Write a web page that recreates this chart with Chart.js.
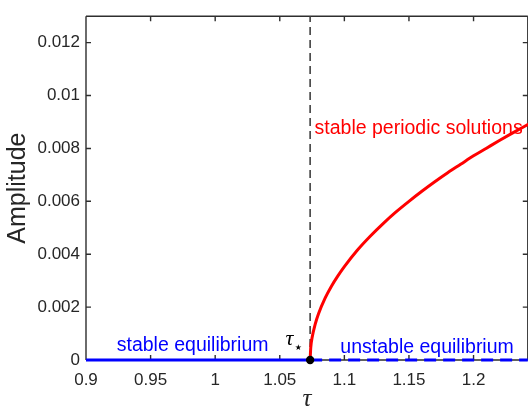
<!DOCTYPE html>
<html><head><meta charset="utf-8">
<script src="https://cdn.jsdelivr.net/npm/chart.js@4"></script>
<style>
html,body{margin:0;padding:0;overflow:hidden;background:#fff;width:528px;height:412px}
#wrap{width:532px;height:412px}
</style></head>
<body><div id="wrap"><canvas id="c" width="532" height="412"></canvas></div>
<script>
// ---- data ----
const tauStar = 1.0735;
const xMin = 0.9, xMax = 1.242, yMin = 0, yMax = 0.013;
const xTicks = [0.9, 0.95, 1, 1.05, 1.1, 1.15, 1.2];
const xTickLabels = ['0.9', '0.95', '1', '1.05', '1.1', '1.15', '1.2'];
const yTicks = [0, 0.002, 0.004, 0.006, 0.008, 0.01, 0.012];
const yTickLabels = ['0', '0.002', '0.004', '0.006', '0.008', '0.01', '0.012'];
const stableEqTau = [0.9, tauStar];
const stableEqAmp = [0, 0];
const unstableEqTau = [tauStar, xMax];
const unstableEqAmp = [0, 0];
const periodicTau = [1.0735, 1.074, 1.075, 1.0775, 1.08, 1.085, 1.09, 1.095, 1.10, 1.11, 1.12, 1.13, 1.14, 1.15, 1.16, 1.17, 1.18, 1.19, 1.20, 1.21, 1.22, 1.23, 1.24, 1.245];
const periodicAmp = [0, 0.00048, 0.00084, 0.00137, 0.00175, 0.00233, 0.00279, 0.00318, 0.00353, 0.00415, 0.00468, 0.00516, 0.0056, 0.006, 0.00638, 0.00674, 0.00708, 0.0074, 0.00772, 0.00801, 0.0083, 0.00858, 0.00885, 0.00898];
const criticalLineTau = [tauStar, tauStar];
const criticalLineAmp = [0, yMax];

const zip = (xs, ys) => xs.map((x, i) => ({x, y: ys[i]}));

const axisColor = '#2e2e2e';
const textColor = '#262626';

const boxPlugin = {
  id: 'box',
  beforeDatasetsDraw(chart) {
    const {ctx, chartArea: a, scales: {x, y}} = chart;
    ctx.save();
    ctx.strokeStyle = axisColor;
    ctx.lineWidth = 1.4;
    ctx.beginPath();
    ctx.moveTo(a.left, a.bottom); ctx.lineTo(a.right, a.bottom);
    ctx.moveTo(a.left, a.top); ctx.lineTo(a.right, a.top);
    ctx.moveTo(a.left, a.top); ctx.lineTo(a.left, a.bottom);
    ctx.moveTo(a.right, a.top); ctx.lineTo(a.right, a.bottom);
    const tl = 5;
    xTicks.forEach(v => {
      const px = x.getPixelForValue(v);
      ctx.moveTo(px, a.bottom); ctx.lineTo(px, a.bottom - tl);
      ctx.moveTo(px, a.top); ctx.lineTo(px, a.top + tl);
    });
    yTicks.forEach(v => {
      const py = y.getPixelForValue(v);
      ctx.moveTo(a.left, py); ctx.lineTo(a.left + tl, py);
      ctx.moveTo(a.right, py); ctx.lineTo(a.right - tl, py);
    });
    ctx.stroke();
    ctx.restore();
  },
  afterDatasetsDraw(chart) {
    const {ctx, scales: {x, y}} = chart;
    const notes = chart.options.plugins.box.notes;
    ctx.save();
    ctx.textBaseline = 'alphabetic';
    ctx.textAlign = 'left';
    notes.forEach(n => {
      ctx.fillStyle = n.color;
      ctx.font = n.font;
      const px = x.getPixelForValue(n.x), py = y.getPixelForValue(n.y);
      ctx.fillText(n.text, px, py);
      if (n.sub) {
        const w = ctx.measureText(n.text).width;
        ctx.font = n.subFont;
        ctx.fillText(n.sub, px + w + 1.5, py + 5);
      }
    });
    ctx.restore();
  }
};

new Chart(document.getElementById('c'), {
  type: 'line',
  data: {
    datasets: [
      {data: zip(criticalLineTau, criticalLineAmp), borderColor: '#404040', borderWidth: 1.6, borderDash: [8, 5], pointRadius: 0, clip: false, order: 5},
      {data: zip(stableEqTau, stableEqAmp), borderColor: '#0000ff', borderWidth: 3, pointRadius: 0, clip: false, order: 4},
      {data: zip(unstableEqTau, unstableEqAmp), borderColor: '#0000ff', borderWidth: 3, borderDash: [12, 7], pointRadius: 0, clip: false, order: 3},
      {data: zip(periodicTau, periodicAmp), borderColor: '#ff0000', borderWidth: 3, pointRadius: 0, cubicInterpolationMode: 'monotone', clip: false, order: 2},
      {data: zip([tauStar], [0]), showLine: false, pointRadius: 4.2, pointBackgroundColor: '#000', pointBorderColor: '#000', pointBorderWidth: 0, clip: false, order: 1}
    ]
  },
  options: {
    responsive: false,
    animation: false,
    events: [],
    layout: {padding: {left: 0, top: 13, right: 1, bottom: 0}},
    plugins: {
      legend: {display: false},
      tooltip: {enabled: false},
      box: {
        notes: [
          {text: 'stable periodic solutions', x: 1.0769, y: 0.00854, color: '#ff0000', font: '19.5px "Liberation Sans", Arial, sans-serif'},
          {text: 'stable equilibrium', x: 0.9238, y: 0.00035, color: '#0000ff', font: '19.5px "Liberation Sans", Arial, sans-serif'},
          {text: 'unstable equilibrium', x: 1.0969, y: 0.00025, color: '#0000ff', font: '19.5px "Liberation Sans", Arial, sans-serif'},
          {text: 'τ', sub: '★', x: 1.0544, y: 0.00056, color: '#000', font: 'italic 22px "Liberation Serif", serif', subFont: '8px "DejaVu Sans", sans-serif'}
        ]
      }
    },
    scales: {
      x: {
        type: 'linear', min: xMin, max: xMax,
        grid: {display: false, drawTicks: false},
        border: {display: false},
        afterBuildTicks: s => { s.ticks = xTicks.map(v => ({value: v})); },
        afterFit: s => { s.height = 52; },
        ticks: {
          padding: 10, color: textColor, maxRotation: 0, autoSkip: false,
          font: {family: '"Liberation Sans", Arial, sans-serif', size: 17},
          callback: (v, i) => xTickLabels[i]
        },
        title: {display: true, text: 'τ', color: textColor, padding: {top: 0, bottom: 0},
          font: {family: '"Liberation Serif", serif', style: 'italic', size: 25, lineHeight: 1}}
      },
      y: {
        type: 'linear', min: yMin, max: yMax,
        grid: {display: false, drawTicks: false},
        border: {display: false},
        afterBuildTicks: s => { s.ticks = yTicks.map(v => ({value: v})); },
        afterFit: s => { s.width = 86; },
        ticks: {
          padding: 6, color: textColor, autoSkip: false,
          font: {family: '"Liberation Sans", Arial, sans-serif', size: 17},
          callback: (v, i) => yTickLabels[i]
        },
        title: {display: true, text: 'Amplitude', color: textColor, padding: {top: 6, bottom: 0},
          font: {family: '"Liberation Sans", Arial, sans-serif', size: 25, lineHeight: 1}}
      }
    }
  },
  plugins: [boxPlugin]
});
</script>
</body></html>
